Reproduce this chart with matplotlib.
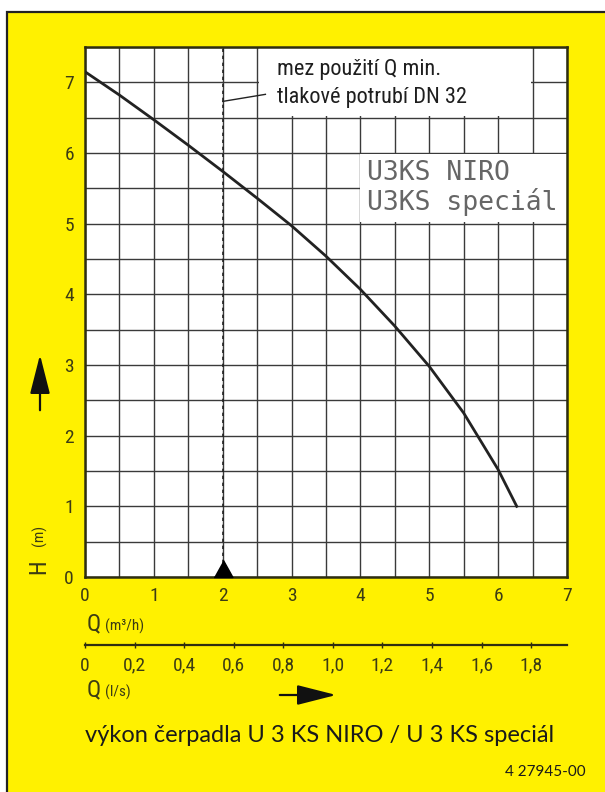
import matplotlib
matplotlib.use("Agg")
import matplotlib.pyplot as plt
from matplotlib import font_manager as fm
from matplotlib.patches import Rectangle, FancyArrowPatch

# ---------------- data ----------------
q_m3h = [0, 0.5, 1, 1.5, 2, 2.5, 3, 3.5, 4, 4.5, 5, 5.5, 6, 6.27]
h_m = [7.15, 6.82, 6.47, 6.11, 5.74, 5.36, 4.97, 4.54, 4.07, 3.55, 2.98, 2.32, 1.52, 1.00]
q_min = 2.0
x_ticks = [0, 1, 2, 3, 4, 5, 6, 7]
y_ticks = [0, 1, 2, 3, 4, 5, 6, 7]
ls_ticks = [0, 0.2, 0.4, 0.6, 0.8, 1.0, 1.2, 1.4, 1.6, 1.8]
ls_labels = ["0", "0,2", "0,4", "0,6", "0,8", "1,0", "1,2", "1,4", "1,6", "1,8"]
note_lines = ["mez použití Q min.", "tlakové potrubí DN 32"]
model_text = "U3KS NIRO\nU3KS speciál"
title_text = "výkon čerpadla U 3 KS NIRO / U 3 KS speciál"
code_text = "4 27945-00"


def find_narrow():
    for fam in ["Liberation Sans Narrow", "Roboto Condensed", "Open Sans Condensed",
                "DejaVu Sans Condensed"]:
        try:
            fm.findfont(fm.FontProperties(family=fam), fallback_to_default=False)
            return fam, "normal", True
        except Exception:
            pass
    for fam in ["DejaVu Sans", "Noto Sans", "Open Sans", "Liberation Sans"]:
        try:
            f = fm.findfont(fm.FontProperties(family=fam, stretch="condensed"),
                            fallback_to_default=False)
            if "ondensed" in f or "arrow" in f:
                return fam, "condensed", True
        except Exception:
            pass
    return "DejaVu Sans", "normal", False


def pick(names):
    for n in names:
        try:
            fm.findfont(fm.FontProperties(family=n), fallback_to_default=False)
            return n
        except Exception:
            pass
    return "DejaVu Sans"


NARROW, NSTRETCH, IS_NARROW = find_narrow()
TITLEF = pick(["Lato", "Open Sans", "DejaVu Sans"])
MONO = pick(["DejaVu Sans Mono"])
NK = dict(family=NARROW, stretch=NSTRETCH)
TK = 14 if IS_NARROW else 11.5

W, H = 605, 792
fig = plt.figure(figsize=(W / 100, H / 100), dpi=100, facecolor="white")

YEL = "#FFF100"
LAB = "#3c3c14"

# yellow panel with black border on left/top
fig.patches.append(Rectangle((7 / W, -0.1), 1.2, 1.1 - 12 / H, transform=fig.transFigure,
                             facecolor=YEL, edgecolor="#222222", lw=1.6, zorder=-5))


def fx(px):
    return px / W


def fy(py):
    return 1 - py / H


# main axes
ax = fig.add_axes([fx(85), fy(577), fx(567) - fx(85), fy(47) - fy(577)], zorder=2)
ax.set_facecolor("white")
ax.set_xlim(0, 7)
ax.set_ylim(0, 7.5)
ax.set_xticks(x_ticks)
ax.set_yticks(y_ticks)
ax.set_xticks([v + 0.5 for v in x_ticks[:-1]], minor=True)
ax.set_yticks([v + 0.5 for v in y_ticks], minor=True)
ax.grid(True, which="both", color="#3a3a3a", lw=1.0)
ax.set_axisbelow(True)
ax.tick_params(which="both", length=0)
ax.tick_params(axis="x", pad=7, labelsize=TK, labelcolor=LAB)
ax.tick_params(axis="y", pad=8, labelsize=TK, labelcolor=LAB)
for lab in ax.get_xticklabels() + ax.get_yticklabels():
    lab.set_fontfamily(NARROW)
    lab.set_fontstretch(NSTRETCH)
for s in ax.spines.values():
    s.set_color("#2e2e10")
    s.set_linewidth(1.8)

# white masks for the text boxes
ax.add_patch(Rectangle((2.52, 6.52), 3.96, 0.98, facecolor="white", edgecolor="none", zorder=1.5))
ax.add_patch(Rectangle((3.99, 5.02), 3.01, 0.96, facecolor="white", edgecolor="none", zorder=1.5))

# pump curve
ax.plot(q_m3h, h_m, color="#222222", lw=2.0, zorder=3, solid_joinstyle="round")

# Q min dashed line and marker
ax.axvline(q_min, color="#222222", lw=1.2, ls=(0, (2.0, 2.2)), zorder=2)
ax.plot([q_min], [0], marker=[(-1, 0), (1, 0), (0, 1.8)], markersize=24.5, color="black",
        clip_on=False, zorder=4)

# annotation
nfs = 16 if IS_NARROW else 12.5
fig.text(fx(277), fy(70), note_lines[0], ha="left", va="center", fontsize=nfs,
         color="#1e1e1e", zorder=5, **NK)
fig.text(fx(277), fy(97), note_lines[1], ha="left", va="center", fontsize=nfs,
         color="#1e1e1e", zorder=5, **NK)
ax.plot([q_min, 2.62], [6.73, 6.83], color="#222222", lw=1.0, zorder=3)

ax.text(4.1, 5.51, model_text, ha="left", va="center", fontsize=19, family=MONO,
        color="#666666", linespacing=1.1, zorder=3)

# secondary l/s scale
ax2 = fig.add_axes([fx(85), fy(645), fx(567) - fx(85), 0.0001], zorder=2)
ax2.set_xlim(0, 7 / 3.6)
ax2.set_facecolor("none")
for k in ["top", "left", "right"]:
    ax2.spines[k].set_visible(False)
ax2.spines["bottom"].set_color("#2e2e10")
ax2.spines["bottom"].set_linewidth(1.6)
ax2.set_yticks([])
ax2.set_xticks(ls_ticks)
ax2.set_xticklabels(ls_labels)
ax2.tick_params(axis="x", direction="inout", length=5, width=1.0, color="#2e2e10",
                pad=6, labelsize=TK, labelcolor=LAB)
for lab in ax2.get_xticklabels():
    lab.set_fontfamily(NARROW)
    lab.set_fontstretch(NSTRETCH)

# axis labels
fig.text(fx(87), fy(624), "Q", fontsize=17, color=LAB, ha="left", va="center", **NK)
fig.text(fx(105), fy(626), "(m³/h)", fontsize=11, color=LAB, ha="left", va="center", **NK)
fig.text(fx(87), fy(690), "Q", fontsize=17, color=LAB, ha="left", va="center", **NK)
fig.text(fx(105), fy(692), "(l/s)", fontsize=11, color=LAB, ha="left", va="center", **NK)
fig.text(fx(39), fy(567), "H", fontsize=17, color=LAB, ha="center", va="center",
         rotation=90, **NK)
fig.text(fx(39), fy(535), "(m)", fontsize=11, color=LAB, ha="center", va="center",
         rotation=90, **NK)

# arrows
fig.add_artist(FancyArrowPatch(
    (fx(40), fy(413)), (fx(40), fy(352)), transform=fig.transFigure,
    arrowstyle="-|>,head_length=1.1,head_width=0.28", mutation_scale=22, color="#111111", lw=1.6))
fig.add_artist(FancyArrowPatch(
    (fx(277), fy(695)), (fx(339), fy(695)), transform=fig.transFigure,
    arrowstyle="-|>,head_length=1.1,head_width=0.28", mutation_scale=22, color="#111111", lw=1.6))

# title and code
fig.text(fx(320), fy(735), title_text, fontsize=17, family=TITLEF, color="#1a1a1a",
         ha="center", va="center")
fig.text(fx(586), fy(772), code_text, fontsize=11, family=TITLEF, color="#1a1a1a",
         ha="right", va="center")

fig.savefig("out.png", dpi=100, facecolor="white")
